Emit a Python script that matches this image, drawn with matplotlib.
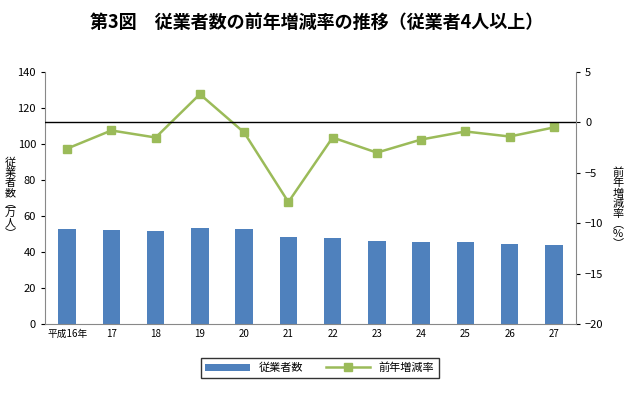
import matplotlib
matplotlib.use("Agg")
import matplotlib.pyplot as plt

plt.rcParams['font.family'] = 'Noto Sans CJK JP'

years = ["平成16年", "17", "18", "19", "20", "21", "22", "23", "24", "25", "26", "27"]
employees = [52.8, 52.5, 51.7, 53.3, 52.8, 48.3, 47.8, 46.1, 45.6, 45.6, 44.4, 43.9]
rate = [-2.6, -0.8, -1.5, 2.8, -1.0, -7.9, -1.5, -3.0, -1.7, -0.9, -1.4, -0.5]

fig = plt.figure(figsize=(6.34, 4.12), dpi=100)
ax = fig.add_axes([45/634, 1-324/412, (576-45)/634, (324-72)/412])
x = list(range(len(years)))
b = ax.bar(x, employees, width=0.4, color='#4f81bd', label='従業者数', zorder=2)
ax.set_ylim(0, 140)
ax.set_yticks(range(0, 141, 20))
ax.set_xlim(-0.5, len(years)-0.5)
ax.set_xticks(x)
ax.set_xticklabels(years, fontsize=7)
ax.tick_params(axis='y', labelsize=8, length=3)
ax.tick_params(axis='x', length=0)
for s in ['top', 'right']:
    ax.spines[s].set_visible(False)
for s in ['left', 'bottom']:
    ax.spines[s].set_color('#888888')

ax2 = ax.twinx()
l, = ax2.plot(x, rate, color='#9bbb59', marker='s', markersize=6, linewidth=1.8, label='前年増減率')
ax2.set_ylim(-20, 5)
ax2.set_yticks(range(-20, 6, 5))
ax2.axhline(0, color='black', linewidth=1)
ax2.tick_params(axis='y', labelsize=8, length=3)
for s in ['top', 'left', 'bottom']:
    ax2.spines[s].set_visible(False)
ax2.spines['right'].set_color('#888888')

fig.text(0.5, 1-22/412, "第3図　従業者数の前年増減率の推移（従業者4人以上）", ha='center', va='center', fontsize=13, fontweight='bold')
fig.text(10/634, 1-198/412, "\n".join(["従", "業", "者", "数", "︵", "万", "人", "︶"]), ha='center', va='center', fontsize=8, linespacing=1.0)
fig.text(618/634, 1-208/412, "\n".join(["前", "年", "増", "減", "率", "︵", "%", "︶"]), ha='center', va='center', fontsize=8, linespacing=1.0)

fig.legend([b, l], ['従業者数', '前年増減率'], loc='center', bbox_to_anchor=(320/634, 1-368/412),
           ncol=2, fontsize=8, frameon=True, fancybox=False, edgecolor='black', handlelength=4, columnspacing=2)
fig.savefig("out.png", dpi=100)
